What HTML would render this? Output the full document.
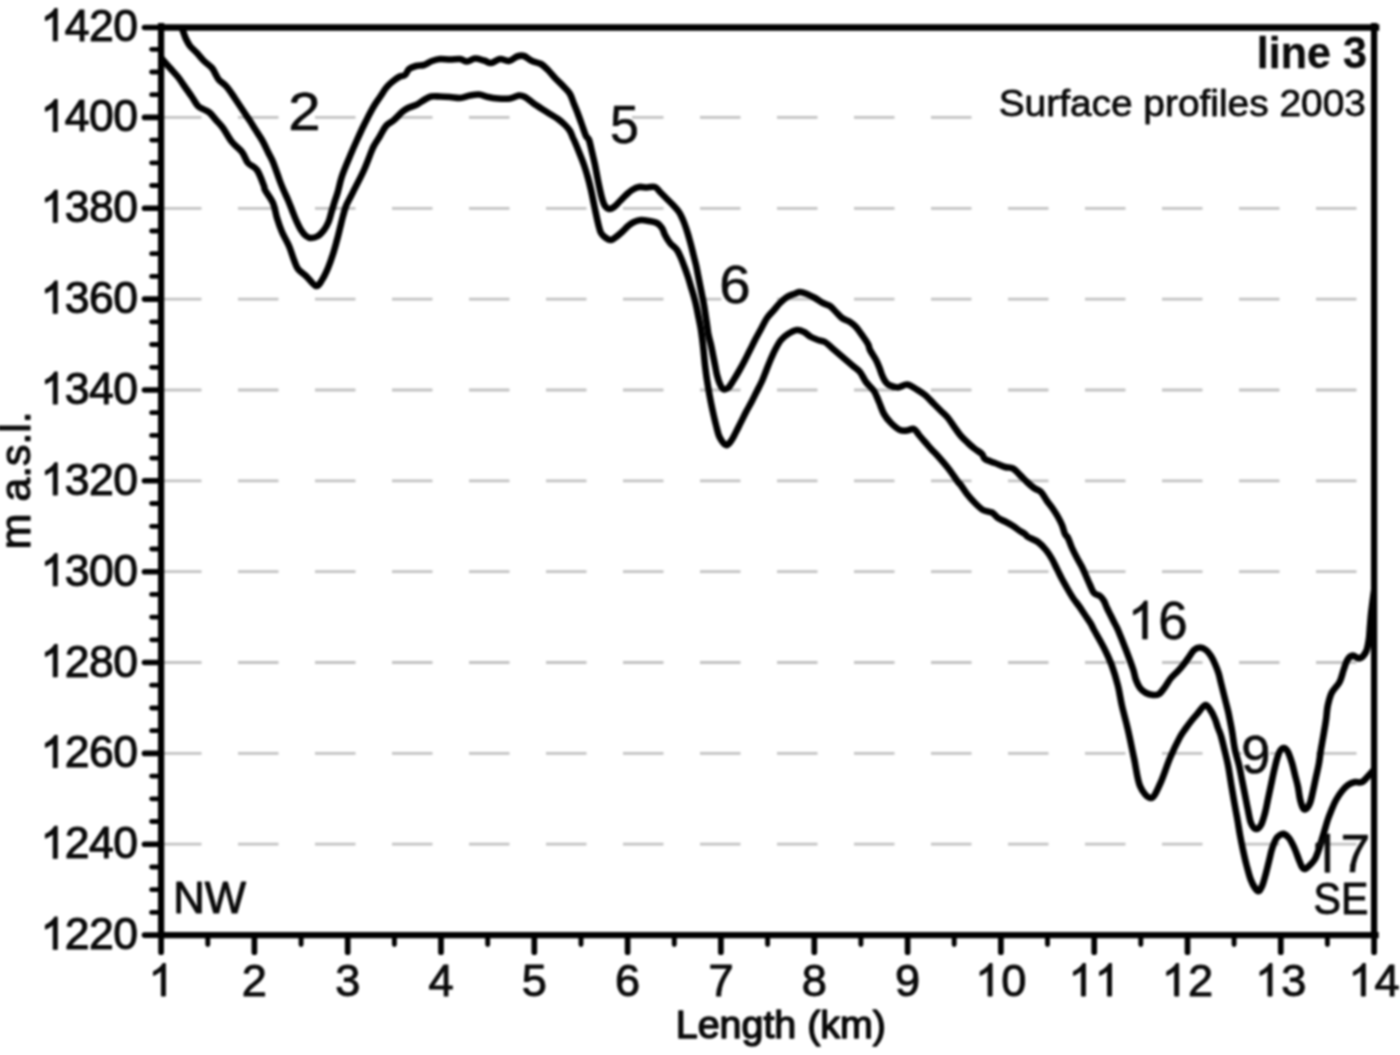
<!DOCTYPE html>
<html><head><meta charset="utf-8"><title>line 3 - Surface profiles 2003</title>
<style>
html,body{margin:0;padding:0;background:#fff;}
body{width:1400px;height:1055px;overflow:hidden;font-family:"Liberation Sans",sans-serif;}
svg{display:block;}
</style></head><body>
<svg width="1400" height="1055" viewBox="0 0 1400 1055">
<clipPath id="pc"><rect x="161.1" y="27.5" width="1215.0" height="907.6"/></clipPath>
<filter id="soft" filterUnits="userSpaceOnUse" x="-20" y="-20" width="1440" height="1095" color-interpolation-filters="sRGB"><feGaussianBlur stdDeviation="1.0"/></filter>
<g filter="url(#soft)">
<rect x="-20" y="-20" width="1440" height="1095" fill="#ffffff"/>
<g stroke="#c2c2c2" stroke-width="2.8" stroke-dasharray="40.5 36.5" fill="none">
<path d="M161 117.4H1360"/>
<path d="M161 208.3H1360"/>
<path d="M161 299.1H1360"/>
<path d="M161 390.0H1360"/>
<path d="M161 480.8H1360"/>
<path d="M161 571.7H1360"/>
<path d="M161 662.5H1360"/>
<path d="M161 753.4H1360"/>
<path d="M161 844.2H1360"/>
</g>
<g fill="#ffffff">
<rect x="997" y="84" width="374" height="42"/>
<rect x="609" y="103" width="23" height="44"/>
<rect x="544" y="113" width="44" height="9"/>
<rect x="721.5" y="263" width="28" height="43"/>
<rect x="1242" y="733" width="28" height="43"/>
</g>
<g clip-path="url(#pc)"><g stroke="#000" stroke-width="6.6" fill="none" stroke-linejoin="round" stroke-linecap="round">
<path d="M148.0 43.0C150.3 45.7 158.3 54.8 162.0 59.0C165.7 63.2 167.3 65.0 170.0 68.0C172.7 71.0 175.5 73.8 178.0 77.0C180.5 80.2 182.7 83.7 185.0 87.0C187.3 90.3 189.8 93.8 192.0 97.0C194.2 100.2 196.0 103.9 198.0 106.0C200.0 108.1 202.0 108.3 204.0 109.5C206.0 110.7 208.0 111.2 210.0 113.0C212.0 114.8 213.8 117.5 216.0 120.0C218.2 122.5 220.3 124.3 223.0 128.0C225.7 131.7 228.8 138.0 232.0 142.0C235.2 146.0 239.3 148.5 242.0 152.0C244.7 155.5 245.5 160.0 248.0 163.0C250.5 166.0 254.3 166.2 257.0 170.0C259.7 173.8 262.7 182.7 264.0 186.0C265.3 189.3 263.5 187.2 265.0 190.0C266.5 192.8 271.0 198.3 273.0 203.0C275.0 207.7 275.5 213.2 277.0 218.0C278.5 222.8 280.0 227.3 282.0 232.0C284.0 236.7 287.0 241.3 289.0 246.0C291.0 250.7 292.5 256.2 294.0 260.0C295.5 263.8 296.0 266.3 298.0 269.0C300.0 271.7 303.0 273.2 306.0 276.0C309.0 278.8 313.3 285.3 316.0 286.0C318.7 286.7 320.0 283.0 322.0 280.0C324.0 277.0 326.2 272.3 328.0 268.0C329.8 263.7 331.5 258.7 333.0 254.0C334.5 249.3 335.8 244.3 337.0 240.0C338.2 235.7 339.0 232.0 340.0 228.0C341.0 224.0 342.0 219.7 343.0 216.0C344.0 212.3 344.7 209.3 346.0 206.0C347.3 202.7 349.7 198.7 351.0 196.0C352.3 193.3 351.8 194.3 354.0 190.0C356.2 185.7 361.0 176.7 364.0 170.0C367.0 163.3 370.2 154.3 372.0 150.0C373.8 145.7 373.7 146.3 375.0 144.0C376.3 141.7 378.2 139.0 380.0 136.0C381.8 133.0 383.7 128.7 386.0 126.0C388.3 123.3 391.3 122.3 394.0 120.0C396.7 117.7 399.7 114.0 402.0 112.0C404.3 110.0 405.7 109.2 408.0 108.0C410.3 106.8 413.3 106.3 416.0 105.0C418.7 103.7 421.5 101.4 424.0 100.0C426.5 98.6 428.3 97.1 431.0 96.5C433.7 95.9 436.8 96.4 440.0 96.5C443.2 96.6 446.7 96.8 450.0 97.0C453.3 97.2 456.7 98.2 460.0 98.0C463.3 97.8 466.8 96.1 470.0 95.5C473.2 94.9 476.0 94.2 479.0 94.5C482.0 94.8 484.8 96.3 488.0 97.0C491.2 97.7 494.3 98.2 498.0 98.5C501.7 98.8 506.5 99.0 510.0 98.5C513.5 98.0 516.5 95.8 519.0 95.5C521.5 95.2 522.7 95.8 525.0 97.0C527.3 98.2 530.2 101.0 533.0 103.0C535.8 105.0 539.2 107.2 542.0 109.0C544.8 110.8 547.3 112.3 550.0 114.0C552.7 115.7 555.5 117.2 558.0 119.0C560.5 120.8 563.0 123.0 565.0 125.0C567.0 127.0 568.7 128.8 570.0 131.0C571.3 133.2 572.3 136.5 573.0 138.0C573.7 139.5 573.0 137.7 574.0 140.0C575.0 142.3 577.3 147.8 579.0 152.0C580.7 156.2 582.5 160.7 584.0 165.0C585.5 169.3 586.8 173.8 588.0 178.0C589.2 182.2 590.1 186.0 591.0 190.0C591.9 194.0 592.7 198.0 593.5 202.0C594.3 206.0 595.2 210.2 596.0 214.0C596.8 217.8 597.7 221.8 598.5 225.0C599.3 228.2 599.8 230.8 601.0 233.0C602.2 235.2 604.3 236.8 606.0 238.0C607.7 239.2 609.3 240.2 611.0 240.0C612.7 239.8 614.2 238.3 616.0 237.0C617.8 235.7 620.0 233.8 622.0 232.0C624.0 230.2 626.0 227.7 628.0 226.0C630.0 224.3 631.8 223.0 634.0 222.0C636.2 221.0 638.5 220.2 641.0 220.0C643.5 219.8 646.3 220.5 649.0 221.0C651.7 221.5 654.8 221.8 657.0 223.0C659.2 224.2 660.7 226.0 662.0 228.0C663.3 230.0 663.7 232.5 665.0 235.0C666.3 237.5 668.0 240.5 670.0 243.0C672.0 245.5 675.2 247.5 677.0 250.0C678.8 252.5 679.8 255.2 681.0 258.0C682.2 260.8 683.3 263.8 684.5 267.0C685.7 270.2 686.9 273.7 688.0 277.0C689.1 280.3 690.0 283.7 691.0 287.0C692.0 290.3 693.1 293.7 694.0 297.0C694.9 300.3 695.8 303.7 696.5 307.0C697.2 310.3 697.8 313.7 698.5 317.0C699.2 320.3 699.9 323.7 700.5 327.0C701.1 330.3 701.5 333.2 702.0 337.0C702.5 340.8 703.0 345.3 703.5 350.0C704.0 354.7 704.4 360.0 705.0 365.0C705.6 370.0 706.2 375.0 707.0 380.0C707.8 385.0 708.6 390.0 709.5 395.0C710.4 400.0 711.4 405.0 712.5 410.0C713.6 415.0 714.8 420.5 716.0 425.0C717.2 429.5 717.8 433.7 719.5 437.0C721.2 440.3 724.1 444.3 726.0 445.0C727.9 445.7 729.3 443.2 731.0 441.0C732.7 438.8 734.3 435.2 736.0 432.0C737.7 428.8 739.3 425.3 741.0 422.0C742.7 418.7 744.2 415.5 746.0 412.0C747.8 408.5 750.2 404.5 752.0 401.0C753.8 397.5 755.3 394.3 757.0 391.0C758.7 387.7 760.5 384.3 762.0 381.0C763.5 377.7 764.7 374.3 766.0 371.0C767.3 367.7 768.5 364.5 770.0 361.0C771.5 357.5 773.2 353.5 775.0 350.0C776.8 346.5 778.8 342.7 781.0 340.0C783.2 337.3 785.3 335.7 788.0 334.0C790.7 332.3 794.3 330.3 797.0 330.0C799.7 329.7 801.7 330.8 804.0 332.0C806.3 333.2 808.7 335.7 811.0 337.0C813.3 338.3 815.7 339.2 818.0 340.0C820.3 340.8 822.7 340.7 825.0 342.0C827.3 343.3 829.7 346.0 832.0 348.0C834.3 350.0 836.7 352.0 839.0 354.0C841.3 356.0 843.7 358.0 846.0 360.0C848.3 362.0 850.7 364.0 853.0 366.0C855.3 368.0 857.8 369.3 860.0 372.0C862.2 374.7 863.7 378.8 866.0 382.0C868.3 385.2 871.8 387.7 874.0 391.0C876.2 394.3 877.3 398.2 879.0 402.0C880.7 405.8 882.0 410.5 884.0 414.0C886.0 417.5 888.3 420.3 891.0 423.0C893.7 425.7 897.3 428.8 900.0 430.0C902.7 431.2 904.7 430.7 907.0 430.5C909.3 430.3 912.0 428.2 914.0 429.0C916.0 429.8 917.2 432.8 919.0 435.0C920.8 437.2 922.8 439.5 925.0 442.0C927.2 444.5 930.2 448.0 932.0 450.0C933.8 452.0 933.3 451.0 936.0 454.0C938.7 457.0 944.3 463.3 948.0 468.0C951.7 472.7 956.0 479.3 958.0 482.0C960.0 484.7 958.5 482.0 960.0 484.0C961.5 486.0 964.5 490.8 967.0 494.0C969.5 497.2 972.3 500.3 975.0 503.0C977.7 505.7 980.2 508.4 983.0 510.0C985.8 511.6 989.5 511.2 992.0 512.5C994.5 513.8 995.7 516.4 998.0 518.0C1000.3 519.6 1003.5 520.7 1006.0 522.0C1008.5 523.3 1010.7 524.5 1013.0 526.0C1015.3 527.5 1018.0 529.7 1020.0 531.0C1022.0 532.3 1023.7 533.0 1025.0 534.0C1026.3 535.0 1025.8 535.7 1028.0 537.0C1030.2 538.3 1035.0 539.8 1038.0 542.0C1041.0 544.2 1043.7 547.2 1046.0 550.0C1048.3 552.8 1050.2 555.8 1052.0 559.0C1053.8 562.2 1055.3 565.7 1057.0 569.0C1058.7 572.3 1060.3 575.8 1062.0 579.0C1063.7 582.2 1065.2 584.8 1067.0 588.0C1068.8 591.2 1071.0 595.0 1073.0 598.0C1075.0 601.0 1077.0 603.2 1079.0 606.0C1081.0 608.8 1083.0 612.0 1085.0 615.0C1087.0 618.0 1089.5 621.5 1091.0 624.0C1092.5 626.5 1091.8 626.0 1094.0 630.0C1096.2 634.0 1101.0 642.0 1104.0 648.0C1107.0 654.0 1109.7 659.7 1112.0 666.0C1114.3 672.3 1116.3 679.3 1118.0 686.0C1119.7 692.7 1120.3 698.7 1122.0 706.0C1123.7 713.3 1126.0 721.3 1128.0 730.0C1130.0 738.7 1132.0 748.7 1134.0 758.0C1136.0 767.3 1137.2 779.3 1140.0 786.0C1142.8 792.7 1147.7 798.3 1151.0 798.0C1154.3 797.7 1156.8 790.7 1160.0 784.0C1163.2 777.3 1166.7 765.8 1170.0 758.0C1173.3 750.2 1177.3 742.0 1180.0 737.0C1182.7 732.0 1184.0 730.8 1186.0 728.0C1188.0 725.2 1190.0 722.5 1192.0 720.0C1194.0 717.5 1195.8 715.5 1198.0 713.0C1200.2 710.5 1203.3 705.3 1205.5 705.0C1207.7 704.7 1209.4 708.7 1211.0 711.0C1212.6 713.3 1213.8 716.2 1215.0 719.0C1216.2 721.8 1217.0 725.2 1218.0 728.0C1219.0 730.8 1219.9 732.3 1221.0 736.0C1222.1 739.7 1223.3 745.2 1224.5 750.0C1225.7 754.8 1227.0 760.0 1228.0 765.0C1229.0 770.0 1229.7 775.0 1230.5 780.0C1231.3 785.0 1232.2 790.3 1233.0 795.0C1233.8 799.7 1234.5 803.8 1235.3 808.0C1236.0 812.2 1236.7 815.5 1237.5 820.0C1238.3 824.5 1239.1 830.0 1240.0 835.0C1240.9 840.0 1241.9 845.0 1243.0 850.0C1244.1 855.0 1245.2 860.2 1246.5 865.0C1247.8 869.8 1249.1 875.2 1250.5 879.0C1251.9 882.8 1253.6 886.0 1255.0 888.0C1256.4 890.0 1257.8 891.5 1259.0 891.0C1260.2 890.5 1261.3 888.0 1262.5 885.0C1263.7 882.0 1264.9 877.0 1266.0 873.0C1267.1 869.0 1268.0 865.0 1269.0 861.0C1270.0 857.0 1270.8 852.7 1272.0 849.0C1273.2 845.3 1274.7 841.3 1276.0 839.0C1277.3 836.7 1278.7 835.8 1280.0 835.0C1281.3 834.2 1282.5 833.5 1284.0 834.0C1285.5 834.5 1287.5 836.2 1289.0 838.0C1290.5 839.8 1291.8 842.7 1293.0 845.0C1294.2 847.3 1295.0 849.5 1296.0 852.0C1297.0 854.5 1298.0 857.5 1299.0 860.0C1300.0 862.5 1301.0 865.5 1302.0 867.0C1303.0 868.5 1303.7 869.3 1305.0 869.0C1306.3 868.7 1308.3 866.7 1310.0 865.0C1311.7 863.3 1313.5 861.7 1315.0 859.0C1316.5 856.3 1317.8 852.3 1319.0 849.0C1320.2 845.7 1321.0 842.3 1322.0 839.0C1323.0 835.7 1324.0 832.3 1325.0 829.0C1326.0 825.7 1326.9 822.2 1328.0 819.0C1329.1 815.8 1330.2 813.2 1331.5 810.0C1332.8 806.8 1334.2 803.2 1336.0 800.0C1337.8 796.8 1340.0 793.5 1342.0 791.0C1344.0 788.5 1345.8 786.5 1348.0 785.0C1350.2 783.5 1352.7 782.5 1355.0 782.0C1357.3 781.5 1359.5 783.3 1362.0 782.0C1364.5 780.7 1367.0 777.2 1370.0 774.0C1373.0 770.8 1378.3 764.8 1380.0 763.0"/>
<path d="M176.0 12.0C177.2 15.2 181.3 26.5 183.0 31.0C184.7 35.5 184.8 36.5 186.0 39.0C187.2 41.5 188.2 43.7 190.0 46.0C191.8 48.3 194.7 50.5 197.0 53.0C199.3 55.5 201.5 58.5 204.0 61.0C206.5 63.5 210.0 65.7 212.0 68.0C214.0 70.3 214.8 73.0 216.0 75.0C217.2 77.0 217.3 78.2 219.0 80.0C220.7 81.8 223.8 83.7 226.0 86.0C228.2 88.3 230.0 91.2 232.0 94.0C234.0 96.8 236.0 100.0 238.0 103.0C240.0 106.0 242.0 109.0 244.0 112.0C246.0 115.0 248.2 118.2 250.0 121.0C251.8 123.8 253.0 125.8 255.0 129.0C257.0 132.2 259.8 136.2 262.0 140.0C264.2 143.8 266.2 148.3 268.0 152.0C269.8 155.7 271.1 157.3 273.0 162.0C274.9 166.7 277.8 175.3 279.5 180.0C281.2 184.7 282.1 186.7 283.5 190.0C284.9 193.3 286.6 196.7 288.0 200.0C289.4 203.3 290.7 206.7 292.0 210.0C293.3 213.3 294.5 216.7 296.0 220.0C297.5 223.3 299.3 227.3 301.0 230.0C302.7 232.7 304.3 234.7 306.0 236.0C307.7 237.3 309.0 238.0 311.0 238.0C313.0 238.0 315.8 237.3 318.0 236.0C320.2 234.7 322.2 232.3 324.0 230.0C325.8 227.7 327.2 225.0 328.5 222.0C329.8 219.0 330.5 215.3 331.5 212.0C332.5 208.7 333.5 205.2 334.5 202.0C335.5 198.8 336.2 197.3 337.5 193.0C338.8 188.7 339.9 182.2 342.0 176.0C344.1 169.8 347.5 162.0 350.0 156.0C352.5 150.0 354.8 144.8 357.0 140.0C359.2 135.2 361.2 130.8 363.0 127.0C364.8 123.2 366.2 120.5 368.0 117.0C369.8 113.5 372.0 109.3 374.0 106.0C376.0 102.7 378.0 100.0 380.0 97.0C382.0 94.0 384.0 90.5 386.0 88.0C388.0 85.5 389.8 83.8 392.0 82.0C394.2 80.2 396.8 78.2 399.0 77.0C401.2 75.8 403.3 76.3 405.0 75.0C406.7 73.7 407.2 70.5 409.0 69.0C410.8 67.5 413.5 66.7 416.0 66.0C418.5 65.3 421.3 65.8 424.0 65.0C426.7 64.2 429.3 62.0 432.0 61.0C434.7 60.0 437.0 59.2 440.0 59.0C443.0 58.8 446.7 59.5 450.0 59.5C453.3 59.5 457.2 58.7 460.0 59.0C462.8 59.3 464.5 61.6 467.0 61.5C469.5 61.4 472.2 58.7 475.0 58.5C477.8 58.3 481.3 59.8 484.0 60.5C486.7 61.2 488.3 63.2 491.0 63.0C493.7 62.8 497.0 59.3 500.0 59.0C503.0 58.7 506.2 61.4 509.0 61.0C511.8 60.6 514.5 57.3 517.0 56.5C519.5 55.7 521.5 55.2 524.0 56.0C526.5 56.8 529.2 59.7 532.0 61.0C534.8 62.3 538.3 62.5 541.0 64.0C543.7 65.5 545.5 67.5 548.0 70.0C550.5 72.5 553.3 76.2 556.0 79.0C558.7 81.8 561.7 84.5 564.0 87.0C566.3 89.5 568.3 91.2 570.0 94.0C571.7 96.8 572.7 100.7 574.0 104.0C575.3 107.3 576.7 110.5 578.0 114.0C579.3 117.5 580.7 121.3 582.0 125.0C583.3 128.7 584.8 133.5 586.0 136.0C587.2 138.5 588.0 137.3 589.0 140.0C590.0 142.7 591.0 147.8 592.0 152.0C593.0 156.2 594.1 160.7 595.0 165.0C595.9 169.3 596.7 173.8 597.5 178.0C598.3 182.2 599.2 186.3 600.0 190.0C600.8 193.7 601.7 197.3 602.5 200.0C603.3 202.7 603.9 204.5 605.0 206.0C606.1 207.5 607.5 208.8 609.0 209.0C610.5 209.2 612.2 208.3 614.0 207.0C615.8 205.7 618.0 203.0 620.0 201.0C622.0 199.0 624.0 196.8 626.0 195.0C628.0 193.2 629.8 191.3 632.0 190.0C634.2 188.7 636.5 187.4 639.0 187.0C641.5 186.6 644.3 187.5 647.0 187.5C649.7 187.5 652.8 186.2 655.0 187.0C657.2 187.8 658.2 190.2 660.0 192.0C661.8 193.8 663.8 195.8 666.0 198.0C668.2 200.2 670.8 202.7 673.0 205.0C675.2 207.3 677.3 209.5 679.0 212.0C680.7 214.5 681.8 217.3 683.0 220.0C684.2 222.7 685.1 225.3 686.0 228.0C686.9 230.7 687.7 233.2 688.5 236.0C689.3 238.8 690.2 241.8 691.0 245.0C691.8 248.2 692.7 251.7 693.5 255.0C694.3 258.3 695.2 261.7 696.0 265.0C696.8 268.3 697.3 271.7 698.0 275.0C698.7 278.3 699.3 281.7 700.0 285.0C700.7 288.3 701.3 291.7 702.0 295.0C702.7 298.3 703.4 301.7 704.0 305.0C704.6 308.3 705.0 311.7 705.5 315.0C706.0 318.3 706.5 321.7 707.0 325.0C707.5 328.3 707.8 331.7 708.5 335.0C709.2 338.3 710.2 341.7 711.0 345.0C711.8 348.3 712.3 351.7 713.0 355.0C713.7 358.3 714.3 361.7 715.0 365.0C715.7 368.3 716.2 372.0 717.0 375.0C717.8 378.0 718.5 380.7 719.5 383.0C720.5 385.3 721.6 388.2 723.0 389.0C724.4 389.8 726.3 389.3 728.0 388.0C729.7 386.7 731.2 383.8 733.0 381.0C734.8 378.2 737.0 374.5 739.0 371.0C741.0 367.5 743.2 363.5 745.0 360.0C746.8 356.5 748.3 353.3 750.0 350.0C751.7 346.7 753.2 343.5 755.0 340.0C756.8 336.5 759.0 332.7 761.0 329.0C763.0 325.3 764.8 321.2 767.0 318.0C769.2 314.8 771.8 312.5 774.0 310.0C776.2 307.5 777.8 305.2 780.0 303.0C782.2 300.8 784.7 298.5 787.0 297.0C789.3 295.5 791.8 294.8 794.0 294.0C796.2 293.2 797.8 292.0 800.0 292.0C802.2 292.0 804.5 293.0 807.0 294.0C809.5 295.0 812.3 296.5 815.0 298.0C817.7 299.5 820.5 301.7 823.0 303.0C825.5 304.3 827.8 304.5 830.0 306.0C832.2 307.5 834.0 310.0 836.0 312.0C838.0 314.0 839.7 316.3 842.0 318.0C844.3 319.7 847.7 320.5 850.0 322.0C852.3 323.5 854.0 324.8 856.0 327.0C858.0 329.2 860.0 332.2 862.0 335.0C864.0 337.8 866.7 341.5 868.0 344.0C869.3 346.5 868.7 347.3 870.0 350.0C871.3 352.7 874.4 357.0 876.0 360.0C877.6 363.0 878.5 365.5 879.5 368.0C880.5 370.5 881.1 372.8 882.0 375.0C882.9 377.2 883.8 379.3 885.0 381.0C886.2 382.7 886.8 383.9 889.0 385.0C891.2 386.1 895.0 387.6 898.0 387.5C901.0 387.4 904.0 384.2 907.0 384.5C910.0 384.8 913.0 387.2 916.0 389.0C919.0 390.8 922.0 392.5 925.0 395.0C928.0 397.5 931.3 401.3 934.0 404.0C936.7 406.7 938.7 408.7 941.0 411.0C943.3 413.3 945.7 415.2 948.0 418.0C950.3 420.8 952.8 425.0 955.0 428.0C957.2 431.0 958.8 433.5 961.0 436.0C963.2 438.5 965.7 440.8 968.0 443.0C970.3 445.2 972.7 447.2 975.0 449.0C977.3 450.8 980.3 452.3 982.0 454.0C983.7 455.7 982.8 457.5 985.0 459.0C987.2 460.5 991.7 461.7 995.0 463.0C998.3 464.3 1002.0 466.1 1005.0 467.0C1008.0 467.9 1010.5 467.2 1013.0 468.5C1015.5 469.8 1017.7 472.8 1020.0 475.0C1022.3 477.2 1024.7 479.8 1027.0 482.0C1029.3 484.2 1031.7 486.3 1034.0 488.0C1036.3 489.7 1038.8 489.8 1041.0 492.0C1043.2 494.2 1045.0 498.2 1047.0 501.0C1049.0 503.8 1051.2 506.3 1053.0 509.0C1054.8 511.7 1056.5 514.3 1058.0 517.0C1059.5 519.7 1060.8 522.2 1062.0 525.0C1063.2 527.8 1064.0 531.8 1065.0 534.0C1066.0 536.2 1066.8 535.7 1068.0 538.0C1069.2 540.3 1070.5 544.7 1072.0 548.0C1073.5 551.3 1075.3 554.8 1077.0 558.0C1078.7 561.2 1080.5 564.0 1082.0 567.0C1083.5 570.0 1084.7 573.0 1086.0 576.0C1087.3 579.0 1088.7 582.2 1090.0 585.0C1091.3 587.8 1092.3 591.2 1094.0 593.0C1095.7 594.8 1098.3 594.7 1100.0 596.0C1101.7 597.3 1102.8 599.0 1104.0 601.0C1105.2 603.0 1105.8 605.5 1107.0 608.0C1108.2 610.5 1109.7 613.3 1111.0 616.0C1112.3 618.7 1113.8 621.7 1115.0 624.0C1116.2 626.3 1116.2 625.7 1118.0 630.0C1119.8 634.3 1123.5 643.5 1126.0 650.0C1128.5 656.5 1131.3 664.0 1133.0 669.0C1134.7 674.0 1134.8 676.8 1136.0 680.0C1137.2 683.2 1138.3 685.8 1140.0 688.0C1141.7 690.2 1143.8 691.8 1146.0 693.0C1148.2 694.2 1150.8 694.8 1153.0 695.0C1155.2 695.2 1157.0 695.3 1159.0 694.0C1161.0 692.7 1163.0 689.7 1165.0 687.0C1167.0 684.3 1168.8 680.7 1171.0 678.0C1173.2 675.3 1175.8 673.3 1178.0 671.0C1180.2 668.7 1182.2 666.3 1184.0 664.0C1185.8 661.7 1187.3 659.3 1189.0 657.0C1190.7 654.7 1192.2 651.6 1194.0 650.0C1195.8 648.4 1198.0 647.5 1200.0 647.5C1202.0 647.5 1204.2 648.6 1206.0 650.0C1207.8 651.4 1209.5 653.7 1211.0 656.0C1212.5 658.3 1213.8 661.2 1215.0 664.0C1216.2 666.8 1217.5 669.8 1218.5 673.0C1219.5 676.2 1220.2 679.7 1221.0 683.0C1221.8 686.3 1222.7 689.7 1223.5 693.0C1224.3 696.3 1225.2 699.7 1226.0 703.0C1226.8 706.3 1227.8 709.7 1228.5 713.0C1229.2 716.3 1229.8 719.5 1230.5 723.0C1231.2 726.5 1231.8 729.5 1232.5 734.0C1233.2 738.5 1233.9 744.8 1235.0 750.0C1236.1 755.2 1237.8 760.0 1239.0 765.0C1240.2 770.0 1241.0 775.0 1242.0 780.0C1243.0 785.0 1244.0 790.0 1245.0 795.0C1246.0 800.0 1247.0 805.3 1248.0 810.0C1249.0 814.7 1249.7 819.8 1251.0 823.0C1252.3 826.2 1254.3 828.7 1256.0 829.0C1257.7 829.3 1259.5 827.7 1261.0 825.0C1262.5 822.3 1263.8 817.3 1265.0 813.0C1266.2 808.7 1267.0 803.7 1268.0 799.0C1269.0 794.3 1270.0 789.7 1271.0 785.0C1272.0 780.3 1273.0 775.3 1274.0 771.0C1275.0 766.7 1276.0 762.3 1277.0 759.0C1278.0 755.7 1278.8 752.8 1280.0 751.0C1281.2 749.2 1282.7 747.8 1284.0 748.0C1285.3 748.2 1286.7 749.5 1288.0 752.0C1289.3 754.5 1290.8 759.2 1292.0 763.0C1293.2 766.8 1294.0 771.0 1295.0 775.0C1296.0 779.0 1297.2 783.0 1298.0 787.0C1298.8 791.0 1299.2 795.5 1300.0 799.0C1300.8 802.5 1302.0 806.3 1303.0 808.0C1304.0 809.7 1304.8 809.8 1306.0 809.0C1307.2 808.2 1308.8 806.0 1310.0 803.0C1311.2 800.0 1312.0 795.3 1313.0 791.0C1314.0 786.7 1315.0 781.7 1316.0 777.0C1317.0 772.3 1318.2 767.7 1319.0 763.0C1319.8 758.3 1320.2 753.7 1321.0 749.0C1321.8 744.3 1322.7 739.8 1323.5 735.0C1324.3 730.2 1325.3 724.8 1326.0 720.0C1326.7 715.2 1326.8 710.5 1327.7 706.0C1328.7 701.5 1329.7 696.8 1331.7 692.8C1333.7 688.8 1337.6 685.8 1339.6 682.0C1341.6 678.2 1342.3 673.7 1343.6 670.0C1344.9 666.3 1346.0 662.0 1347.6 659.6C1349.1 657.2 1350.9 655.8 1352.9 655.6C1354.9 655.4 1357.3 658.9 1359.5 658.3C1361.7 657.6 1364.5 654.8 1366.0 651.7C1367.5 648.6 1368.1 644.0 1368.8 639.7C1369.5 635.4 1369.6 630.6 1370.0 626.0C1370.4 621.4 1370.8 616.3 1371.3 612.0C1371.8 607.7 1372.3 604.0 1372.8 600.0C1373.3 596.0 1374.2 590.0 1374.5 588.0"/>
</g></g>
<g stroke="#000" fill="none" stroke-linecap="butt">
<path stroke-width="6.3" d="M161.1 22.9V938.1"/>
<path stroke-width="6.3" d="M1374.1 22.9V938.1"/>
<path stroke-width="6.3" d="M161.1 27.5H1379.3"/>
<path stroke-width="6.3" d="M161.1 935.1H1378.7"/>
<g stroke-linecap="round">
<path stroke-width="5.6" d="M144.5 935.1H161.1"/>
<path stroke-width="4.8" d="M151.6 912.4H161.1"/>
<path stroke-width="4.8" d="M151.6 889.7H161.1"/>
<path stroke-width="4.8" d="M151.6 867.0H161.1"/>
<path stroke-width="5.6" d="M144.5 844.2H161.1"/>
<path stroke-width="4.8" d="M151.6 821.5H161.1"/>
<path stroke-width="4.8" d="M151.6 798.8H161.1"/>
<path stroke-width="4.8" d="M151.6 776.1H161.1"/>
<path stroke-width="5.6" d="M144.5 753.4H161.1"/>
<path stroke-width="4.8" d="M151.6 730.7H161.1"/>
<path stroke-width="4.8" d="M151.6 708.0H161.1"/>
<path stroke-width="4.8" d="M151.6 685.2H161.1"/>
<path stroke-width="5.6" d="M144.5 662.5H161.1"/>
<path stroke-width="4.8" d="M151.6 639.8H161.1"/>
<path stroke-width="4.8" d="M151.6 617.1H161.1"/>
<path stroke-width="4.8" d="M151.6 594.4H161.1"/>
<path stroke-width="5.6" d="M144.5 571.7H161.1"/>
<path stroke-width="4.8" d="M151.6 549.0H161.1"/>
<path stroke-width="4.8" d="M151.6 526.3H161.1"/>
<path stroke-width="4.8" d="M151.6 503.5H161.1"/>
<path stroke-width="5.6" d="M144.5 480.8H161.1"/>
<path stroke-width="4.8" d="M151.6 458.1H161.1"/>
<path stroke-width="4.8" d="M151.6 435.4H161.1"/>
<path stroke-width="4.8" d="M151.6 412.7H161.1"/>
<path stroke-width="5.6" d="M144.5 390.0H161.1"/>
<path stroke-width="4.8" d="M151.6 367.3H161.1"/>
<path stroke-width="4.8" d="M151.6 344.5H161.1"/>
<path stroke-width="4.8" d="M151.6 321.8H161.1"/>
<path stroke-width="5.6" d="M144.5 299.1H161.1"/>
<path stroke-width="4.8" d="M151.6 276.4H161.1"/>
<path stroke-width="4.8" d="M151.6 253.7H161.1"/>
<path stroke-width="4.8" d="M151.6 231.0H161.1"/>
<path stroke-width="5.6" d="M144.5 208.3H161.1"/>
<path stroke-width="4.8" d="M151.6 185.5H161.1"/>
<path stroke-width="4.8" d="M151.6 162.8H161.1"/>
<path stroke-width="4.8" d="M151.6 140.1H161.1"/>
<path stroke-width="5.6" d="M144.5 117.4H161.1"/>
<path stroke-width="4.8" d="M151.6 94.7H161.1"/>
<path stroke-width="4.8" d="M151.6 72.0H161.1"/>
<path stroke-width="4.8" d="M151.6 49.3H161.1"/>
<path stroke-width="5.6" d="M144.5 27.5H161.1"/>
<path stroke-width="5.7" d="M161.1 935.1V952.2"/>
<path stroke-width="4.9" d="M207.8 935.1V944.6"/>
<path stroke-width="5.7" d="M254.4 935.1V952.2"/>
<path stroke-width="4.9" d="M301.1 935.1V944.6"/>
<path stroke-width="5.7" d="M347.7 935.1V952.2"/>
<path stroke-width="4.9" d="M394.4 935.1V944.6"/>
<path stroke-width="5.7" d="M441.0 935.1V952.2"/>
<path stroke-width="4.9" d="M487.7 935.1V944.6"/>
<path stroke-width="5.7" d="M534.3 935.1V952.2"/>
<path stroke-width="4.9" d="M581.0 935.1V944.6"/>
<path stroke-width="5.7" d="M627.6 935.1V952.2"/>
<path stroke-width="4.9" d="M674.3 935.1V944.6"/>
<path stroke-width="5.7" d="M720.9 935.1V952.2"/>
<path stroke-width="4.9" d="M767.6 935.1V944.6"/>
<path stroke-width="5.7" d="M814.3 935.1V952.2"/>
<path stroke-width="4.9" d="M860.9 935.1V944.6"/>
<path stroke-width="5.7" d="M907.6 935.1V952.2"/>
<path stroke-width="4.9" d="M954.2 935.1V944.6"/>
<path stroke-width="5.7" d="M1000.9 935.1V952.2"/>
<path stroke-width="4.9" d="M1047.5 935.1V944.6"/>
<path stroke-width="5.7" d="M1094.2 935.1V952.2"/>
<path stroke-width="4.9" d="M1140.8 935.1V944.6"/>
<path stroke-width="5.7" d="M1187.5 935.1V952.2"/>
<path stroke-width="4.9" d="M1234.1 935.1V944.6"/>
<path stroke-width="5.7" d="M1280.8 935.1V952.2"/>
<path stroke-width="4.9" d="M1327.4 935.1V944.6"/>
<path stroke-width="5.7" d="M1374.1 935.1V952.2"/>
</g></g>
<g font-family="Liberation Sans" fill="#0a0a0a" stroke="#0a0a0a" stroke-width="0" stroke-linejoin="round">
<path transform="translate(40.63 949.15) scale(0.02173 -0.02173)" stroke-width="50.6" d="M763 0H583V1147Q518 1085 412.5 1023T223 930V1104Q374 1175 487 1276T647 1472H763Z"/><text transform="translate(64.83 949.15) scale(1 1.0000)" font-size="44.5" stroke-width="1.10">2</text><text transform="translate(89.03 949.15) scale(1 1.0000)" font-size="44.5" stroke-width="1.10">2</text><text transform="translate(113.23 949.15) scale(1 1.0000)" font-size="44.5" stroke-width="1.10">0</text>
<path transform="translate(40.63 858.30) scale(0.02173 -0.02173)" stroke-width="50.6" d="M763 0H583V1147Q518 1085 412.5 1023T223 930V1104Q374 1175 487 1276T647 1472H763Z"/><text transform="translate(64.83 858.30) scale(1 1.0000)" font-size="44.5" stroke-width="1.10">2</text><text transform="translate(89.03 858.30) scale(1 1.0000)" font-size="44.5" stroke-width="1.10">4</text><text transform="translate(113.23 858.30) scale(1 1.0000)" font-size="44.5" stroke-width="1.10">0</text>
<path transform="translate(40.63 767.44) scale(0.02173 -0.02173)" stroke-width="50.6" d="M763 0H583V1147Q518 1085 412.5 1023T223 930V1104Q374 1175 487 1276T647 1472H763Z"/><text transform="translate(64.83 767.44) scale(1 1.0000)" font-size="44.5" stroke-width="1.10">2</text><text transform="translate(89.03 767.44) scale(1 1.0000)" font-size="44.5" stroke-width="1.10">6</text><text transform="translate(113.23 767.44) scale(1 1.0000)" font-size="44.5" stroke-width="1.10">0</text>
<path transform="translate(40.63 676.59) scale(0.02173 -0.02173)" stroke-width="50.6" d="M763 0H583V1147Q518 1085 412.5 1023T223 930V1104Q374 1175 487 1276T647 1472H763Z"/><text transform="translate(64.83 676.59) scale(1 1.0000)" font-size="44.5" stroke-width="1.10">2</text><text transform="translate(89.03 676.59) scale(1 1.0000)" font-size="44.5" stroke-width="1.10">8</text><text transform="translate(113.23 676.59) scale(1 1.0000)" font-size="44.5" stroke-width="1.10">0</text>
<path transform="translate(40.63 585.73) scale(0.02173 -0.02173)" stroke-width="50.6" d="M763 0H583V1147Q518 1085 412.5 1023T223 930V1104Q374 1175 487 1276T647 1472H763Z"/><text transform="translate(64.83 585.73) scale(1 1.0000)" font-size="44.5" stroke-width="1.10">3</text><text transform="translate(89.03 585.73) scale(1 1.0000)" font-size="44.5" stroke-width="1.10">0</text><text transform="translate(113.23 585.73) scale(1 1.0000)" font-size="44.5" stroke-width="1.10">0</text>
<path transform="translate(40.63 494.87) scale(0.02173 -0.02173)" stroke-width="50.6" d="M763 0H583V1147Q518 1085 412.5 1023T223 930V1104Q374 1175 487 1276T647 1472H763Z"/><text transform="translate(64.83 494.87) scale(1 1.0000)" font-size="44.5" stroke-width="1.10">3</text><text transform="translate(89.03 494.87) scale(1 1.0000)" font-size="44.5" stroke-width="1.10">2</text><text transform="translate(113.23 494.87) scale(1 1.0000)" font-size="44.5" stroke-width="1.10">0</text>
<path transform="translate(40.63 404.02) scale(0.02173 -0.02173)" stroke-width="50.6" d="M763 0H583V1147Q518 1085 412.5 1023T223 930V1104Q374 1175 487 1276T647 1472H763Z"/><text transform="translate(64.83 404.02) scale(1 1.0000)" font-size="44.5" stroke-width="1.10">3</text><text transform="translate(89.03 404.02) scale(1 1.0000)" font-size="44.5" stroke-width="1.10">4</text><text transform="translate(113.23 404.02) scale(1 1.0000)" font-size="44.5" stroke-width="1.10">0</text>
<path transform="translate(40.63 313.16) scale(0.02173 -0.02173)" stroke-width="50.6" d="M763 0H583V1147Q518 1085 412.5 1023T223 930V1104Q374 1175 487 1276T647 1472H763Z"/><text transform="translate(64.83 313.16) scale(1 1.0000)" font-size="44.5" stroke-width="1.10">3</text><text transform="translate(89.03 313.16) scale(1 1.0000)" font-size="44.5" stroke-width="1.10">6</text><text transform="translate(113.23 313.16) scale(1 1.0000)" font-size="44.5" stroke-width="1.10">0</text>
<path transform="translate(40.63 222.31) scale(0.02173 -0.02173)" stroke-width="50.6" d="M763 0H583V1147Q518 1085 412.5 1023T223 930V1104Q374 1175 487 1276T647 1472H763Z"/><text transform="translate(64.83 222.31) scale(1 1.0000)" font-size="44.5" stroke-width="1.10">3</text><text transform="translate(89.03 222.31) scale(1 1.0000)" font-size="44.5" stroke-width="1.10">8</text><text transform="translate(113.23 222.31) scale(1 1.0000)" font-size="44.5" stroke-width="1.10">0</text>
<path transform="translate(40.63 131.45) scale(0.02173 -0.02173)" stroke-width="50.6" d="M763 0H583V1147Q518 1085 412.5 1023T223 930V1104Q374 1175 487 1276T647 1472H763Z"/><text transform="translate(64.83 131.45) scale(1 1.0000)" font-size="44.5" stroke-width="1.10">4</text><text transform="translate(89.03 131.45) scale(1 1.0000)" font-size="44.5" stroke-width="1.10">0</text><text transform="translate(113.23 131.45) scale(1 1.0000)" font-size="44.5" stroke-width="1.10">0</text>
<path transform="translate(40.63 40.65) scale(0.02173 -0.02173)" stroke-width="50.6" d="M763 0H583V1147Q518 1085 412.5 1023T223 930V1104Q374 1175 487 1276T647 1472H763Z"/><text transform="translate(64.83 40.65) scale(1 1.0000)" font-size="44.5" stroke-width="1.10">4</text><text transform="translate(89.03 40.65) scale(1 1.0000)" font-size="44.5" stroke-width="1.10">2</text><text transform="translate(113.23 40.65) scale(1 1.0000)" font-size="44.5" stroke-width="1.10">0</text>
<path transform="translate(148.53 996.00) scale(0.02207 -0.02207)" stroke-width="45.3" d="M763 0H583V1147Q518 1085 412.5 1023T223 930V1104Q374 1175 487 1276T647 1472H763Z"/>
<text transform="translate(241.84 996.00) scale(1 1.0000)" font-size="45.2" stroke-width="1.00">2</text>
<text transform="translate(335.15 996.00) scale(1 1.0000)" font-size="45.2" stroke-width="1.00">3</text>
<text transform="translate(428.45 996.00) scale(1 1.0000)" font-size="45.2" stroke-width="1.00">4</text>
<text transform="translate(521.76 996.00) scale(1 1.0000)" font-size="45.2" stroke-width="1.00">5</text>
<text transform="translate(615.07 996.00) scale(1 1.0000)" font-size="45.2" stroke-width="1.00">6</text>
<text transform="translate(708.38 996.00) scale(1 1.0000)" font-size="45.2" stroke-width="1.00">7</text>
<text transform="translate(801.68 996.00) scale(1 1.0000)" font-size="45.2" stroke-width="1.00">8</text>
<text transform="translate(894.99 996.00) scale(1 1.0000)" font-size="45.2" stroke-width="1.00">9</text>
<path transform="translate(975.23 996.00) scale(0.02207 -0.02207)" stroke-width="45.3" d="M763 0H583V1147Q518 1085 412.5 1023T223 930V1104Q374 1175 487 1276T647 1472H763Z"/><text transform="translate(1001.37 996.00) scale(1 1.0000)" font-size="45.2" stroke-width="1.00">0</text>
<path transform="translate(1068.54 996.00) scale(0.02207 -0.02207)" stroke-width="45.3" d="M763 0H583V1147Q518 1085 412.5 1023T223 930V1104Q374 1175 487 1276T647 1472H763Z"/><path transform="translate(1094.68 996.00) scale(0.02207 -0.02207)" stroke-width="45.3" d="M763 0H583V1147Q518 1085 412.5 1023T223 930V1104Q374 1175 487 1276T647 1472H763Z"/>
<path transform="translate(1161.85 996.00) scale(0.02207 -0.02207)" stroke-width="45.3" d="M763 0H583V1147Q518 1085 412.5 1023T223 930V1104Q374 1175 487 1276T647 1472H763Z"/><text transform="translate(1187.99 996.00) scale(1 1.0000)" font-size="45.2" stroke-width="1.00">2</text>
<path transform="translate(1255.15 996.00) scale(0.02207 -0.02207)" stroke-width="45.3" d="M763 0H583V1147Q518 1085 412.5 1023T223 930V1104Q374 1175 487 1276T647 1472H763Z"/><text transform="translate(1281.29 996.00) scale(1 1.0000)" font-size="45.2" stroke-width="1.00">3</text>
<path transform="translate(1348.46 996.00) scale(0.02207 -0.02207)" stroke-width="45.3" d="M763 0H583V1147Q518 1085 412.5 1023T223 930V1104Q374 1175 487 1276T647 1472H763Z"/><text transform="translate(1374.60 996.00) scale(1 1.0000)" font-size="45.2" stroke-width="1.00">4</text>
<text transform="translate(675.75 1038.01) scale(0.9853 0.9745)" font-size="40" font-weight="normal" stroke-width="1.50">Length (km)</text>
<text transform="translate(30.4 549.16) rotate(-90) scale(1.0050 1)" font-size="42.6" stroke-width="1.2">m a.s.l.</text>
<text transform="translate(1256.84 67.96) scale(0.9569 0.9714)" font-size="45" font-weight="bold" stroke-width="0.30">line 3</text>
<text transform="translate(998.66 115.50) scale(0.9967 0.9628)" font-size="39" font-weight="normal" stroke-width="0.80">Surface profiles 2003</text>
<text transform="translate(173.31 913.10) scale(0.9603 0.9722)" font-size="45.5" font-weight="normal" stroke-width="1.00">NW</text>
<text transform="translate(1313.48 914.02) scale(0.9039 0.9550)" font-size="45.5" font-weight="normal" stroke-width="1.00">SE</text>
<text transform="translate(288.14 129.65) scale(1.0569 0.9844)" font-size="55" font-weight="normal" stroke-width="0.70">2</text>
<text transform="translate(610.04 143.46) scale(0.9448 0.9813)" font-size="55" font-weight="normal" stroke-width="0.70">5</text>
<text transform="translate(719.34 303.46) scale(1.0235 0.9834)" font-size="55" font-weight="normal" stroke-width="0.70">6</text>
<path transform="translate(1127.61 638.90) scale(0.02578 -0.02578)" stroke-width="27.2" d="M763 0H583V1147Q518 1085 412.5 1023T223 930V1104Q374 1175 487 1276T647 1472H763Z"/><text transform="translate(1158.20 638.90) scale(1 1.0000)" font-size="52.8" stroke-width="0.70">6</text>
<text transform="translate(1241.17 773.46) scale(0.9529 0.9834)" font-size="55" font-weight="normal" stroke-width="0.70">9</text>
<path transform="translate(1309.90 872.30) scale(0.02598 -0.02598)" stroke-width="26.9" d="M763 0H583V1147Q518 1085 412.5 1023T223 930V1104Q374 1175 487 1276T647 1472H763Z"/><text transform="translate(1340.49 872.30) scale(1 1.0000)" font-size="53.2" stroke-width="0.70">7</text>
</g>
</g>
</svg>
</body></html>
